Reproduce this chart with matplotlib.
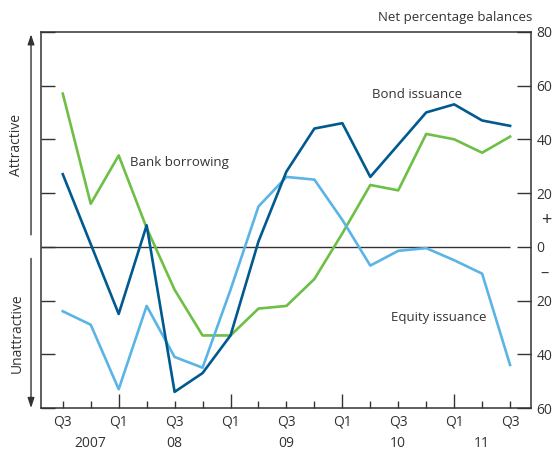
import numpy as np
import matplotlib
matplotlib.use("Agg")
import matplotlib.pyplot as plt

plt.rcParams['font.family'] = ['Open Sans', 'DejaVu Sans']

# Quarters Q3 2007 .. Q3 2011
quarters = ["Q3", "Q4", "Q1", "Q2", "Q3", "Q4", "Q1", "Q2", "Q3", "Q4",
            "Q1", "Q2", "Q3", "Q4", "Q1", "Q2", "Q3"]
year_labels = ["2007", "08", "09", "10", "11"]
year_pos = [1, 4, 8, 12, 15]

bank_borrowing = [57, 16, 34, 7, -16, -33, -33, -23, -22, -12, 5, 23, 21, 42, 40, 35, 41]
bond_issuance = [27, 1, -25, 8, -54, -47, -33, 2, 28, 44, 46, 26, 38, 50, 53, 47, 45]
equity_issuance = [-24, -29, -53, -22, -41, -45, -16, 15, 26, 25, 10, -7, -1.5, -0.5, -5, -10, -44]

green = "#6dbf45"
dark_blue = "#005a8f"
light_blue = "#5ab4e5"
txt = "#333333"

x = np.arange(len(quarters))

fig = plt.figure(figsize=(5.59, 4.5), dpi=100)
ax = fig.add_axes([0.0733, 0.0933, 0.8767, 0.836])

ax.hlines(0, -0.78, x[-1], color=txt, lw=1.0, zorder=1)
ax.plot(x, bank_borrowing, color=green, lw=1.9, zorder=3)
ax.plot(x, equity_issuance, color=light_blue, lw=1.9, zorder=3)
ax.plot(x, bond_issuance, color=dark_blue, lw=1.9, zorder=4)

ax.set_xlim(-0.78, len(quarters) - 1 + 0.75)
ax.set_ylim(-60, 80)

# y axis: labels on the right, ticks on both sides (inward)
yt = [80, 60, 40, 20, 0, -20, -40, -60]
ax.set_yticks(yt)
ax.set_yticklabels([str(abs(v)) for v in yt])
ax.tick_params(axis='y', which='major', direction='in', length=10, width=1.0,
               left=True, right=True, labelleft=False, labelright=True,
               labelsize=10, labelcolor=txt, color=txt, pad=4)
ax.text(1.02, 10, "+", transform=ax.get_yaxis_transform(), ha='left', va='center',
        fontsize=13, color=txt)
ax.text(1.02, -10, "\u2013", transform=ax.get_yaxis_transform(), ha='left', va='center',
        fontsize=12, color=txt)

# x axis: long ticks at Q1, short ticks elsewhere
q1 = [i for i, q in enumerate(quarters) if q == "Q1"]
others = [i for i, q in enumerate(quarters) if q != "Q1"]
ax.set_xticks(q1)
ax.set_xticklabels(["Q1"] * len(q1))
ax.set_xticks(others, minor=True)
ax.set_xticklabels([q if q == "Q3" else "" for q in [quarters[i] for i in others]], minor=True)
ax.tick_params(axis='x', which='major', direction='in', length=10, width=1.0,
               labelsize=10, labelcolor=txt, color=txt, pad=5)
ax.tick_params(axis='x', which='minor', direction='in', length=5, width=1.0,
               labelsize=10, labelcolor=txt, color=txt, pad=5)
for p, lab in zip(year_pos, year_labels):
    ax.text(p, -0.093, lab, transform=ax.get_xaxis_transform(), ha='center', va='center',
            fontsize=10, color=txt)

for s in ax.spines.values():
    s.set_color(txt)
    s.set_linewidth(1.1)

# series labels
ax.text(2.4, 31.5, "Bank borrowing", fontsize=9.5, color=txt, ha='left', va='center')
ax.text(11.05, 56.5, "Bond issuance", fontsize=9.5, color=txt, ha='left', va='center')
ax.text(11.75, -26.5, "Equity issuance", fontsize=9.5, color=txt, ha='left', va='center')

fig.text(0.952, 0.962, "Net percentage balances", ha='right', va='center',
         fontsize=9.5, color=txt)

# attractive / unattractive arrows
arrow_kw = dict(arrowstyle='-|>,head_length=0.6,head_width=0.2', color=txt, lw=1.0)
fig.add_artist(matplotlib.patches.FancyArrowPatch((0.0555, 0.472), (0.0555, 0.93),
               transform=fig.transFigure, mutation_scale=10, **arrow_kw))
fig.add_artist(matplotlib.patches.FancyArrowPatch((0.0555, 0.432), (0.0555, 0.087),
               transform=fig.transFigure, mutation_scale=10, **arrow_kw))
fig.text(0.03, 0.678, "Attractive", rotation=90, ha='center', va='center',
         fontsize=10, color=txt)
fig.text(0.03, 0.26, "Unattractive", rotation=90, ha='center', va='center',
         fontsize=10, color=txt)

fig.savefig("out.png", dpi=100)
